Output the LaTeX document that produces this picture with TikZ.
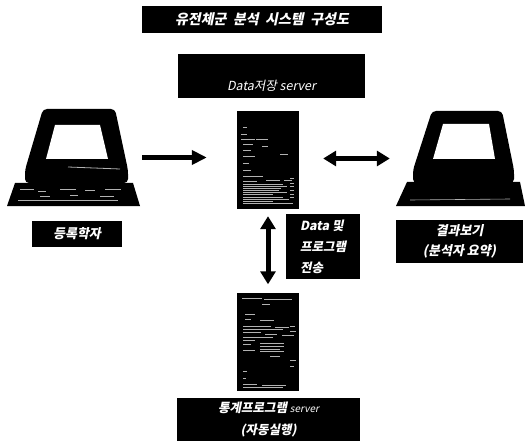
\documentclass[tikz,border=0pt]{standalone}
\usepackage{fontspec}
\setmainfont{Liberation Sans}
\newfontfamily\krfont[FakeSlant=0.2]{Noto Sans CJK KR}
\usetikzlibrary{arrows.meta}
\begin{document}
\begin{tikzpicture}[
    x=1pt,
    y=-1pt,
    blackbox/.style={fill=black, text=white, inner sep=0pt, align=center, font=\krfont\bfseries},
    server/.style={fill=black, inner sep=0pt, minimum width=62pt, minimum height=98pt},
    pcarea/.style={inner sep=0pt, minimum width=#1, minimum height=97pt},
    bigarrow/.style={line width=5pt, -{Triangle[length=15pt,width=14pt]}},
    bothways/.style={line width=5pt, {Triangle[length=13pt,width=15pt]}-{Triangle[length=13pt,width=15pt]}},
    streak/.style={white!70!black, line width=0.8pt}
  ]
    \useasboundingbox (0,0) rectangle (525,441);
    % titles
    \node[blackbox, minimum width=240pt, minimum height=27pt, font=\krfont\bfseries\fontsize{14}{16}\selectfont] (title) at (262,19.5) {유전체군\ \ 분석\ \ 시스템\ \ 구성도};
    \node[blackbox, minimum width=187pt, text height=37pt, text depth=7pt, font=\krfont\fontsize{12.5}{14}\selectfont] (datalabel) at (271.5,76) {Data저장 server};
    % left computer
    \node[pcarea=133pt] (userpc) at (73.5,157.5) {};
    \fill[rounded corners=4pt] (43,109) -- (115,109) -- (128,170) -- (128,183) -- (25,183) -- (25,170) -- cycle;
    \fill[white] (55,125) -- (100,125) -- (108,159) -- (46,159) -- cycle;
    \fill (15,183) -- (133,183) -- (140,206) -- (7,206) -- cycle;
    \draw[streak] (68,167) -- (120,169);
    \foreach \kx/\ky/\kl in {20/189/14,38/191/8,60/189/16,85/190/10,105/189/16,18/200/100,40/196/10,70/195/8,100/196/14} {
      \draw[streak, line width=0.6pt] (\kx,\ky) -- ++(\kl,0);
    }
    \node[blackbox, minimum width=90pt, minimum height=26pt, font=\krfont\bfseries\fontsize{13}{15}\selectfont] (userlabel) at (77,234) {등록학자};
    % right computer
    \node[pcarea=129pt] (resultpc) at (460.5,158.5) {};
    \fill[rounded corners=4pt] (432,111) -- (502,111) -- (514,170) -- (514,183) -- (413,183) -- (413,170) -- cycle;
    \fill[white] (443,124) -- (489,124) -- (495,159) -- (433,159) -- cycle;
    \fill (407,182) -- (520,182) -- (525,206) -- (396,206) -- cycle;
    \draw[streak, line width=0.6pt] (410,200) -- (510,199);
    \node[blackbox, minimum width=127pt, minimum height=43pt, font=\krfont\bfseries\fontsize{13}{20}\selectfont] (resultlabel) at (459.5,241.5) {결과보기\\(분석자 요약)};
    % servers
    \node[server] (dataserver) at (268,160) {};
    \foreach \sx/\sy/\sl in {243/127/4,241/134/6,241/139/14,256/139/12,243/144/10,243/150/8,262/146/6,243/156/12,280/154/8,243/163/6,243/170/8,243/176/20,243/181/14,266/180/14,284/180/8,243/184/40,243/186/44,243/188/38,243/190/36,243/192/44,243/194/30,243/197/40,243/199/46,243/201/30,243/203/50,290/178/4,290/183/4,290/186/4,290/190/4,290/194/4,290/197/4} {
      \draw[streak] (\sx,\sy) -- ++(\sl,0);
    }
    \node[server] (statserver) at (268,341.5) {};
    \foreach \sx/\sy/\sl in {242/298/20,264/299/28,262/304/8,245/314/10,245/319/6,260/320/14,243/326/28,275/327/14,290/326/5,243/329/40,243/332/18,265/334/12,282/335/12,290/331/6,243/337/30,243/340/12,243/344/8,243/350/12,260/343/24,260/346/24,260/349/20,260/351/24,270/356/10,290/360/6,290/366/4,243/371/4,243/378/3,243/384/14,243/387/40,262/385/24} {
      \draw[streak] (\sx,\sy) -- ++(\sl,0);
    }
    % labels
    \node[blackbox, minimum width=74pt, minimum height=65pt, font=\krfont\bfseries\fontsize{12.5}{21}\selectfont, align=left] (sendlabel) at (323,246.5) {Data 및\\프로그램\\전송};
    \node[blackbox, minimum width=183pt, minimum height=43pt, font=\krfont\bfseries\fontsize{12.5}{22}\selectfont] (statlabel) at (268.5,419.5) {통계프로그램 {\mdseries\fontsize{10}{12}\selectfont server}\\(자동실행)};
    % connections
    \draw[bigarrow, shorten <=2pt, shorten >=30pt] (userpc.east) -- (userpc.east -| dataserver.west);
    \draw[bothways, shorten <=24pt, shorten >=6pt] (dataserver.east |- resultpc.west) -- (resultpc.west);
    \draw[bothways, shorten <=7pt, shorten >=8pt] (dataserver.south) -- (statserver.north);
  \end{tikzpicture}
\end{document}
